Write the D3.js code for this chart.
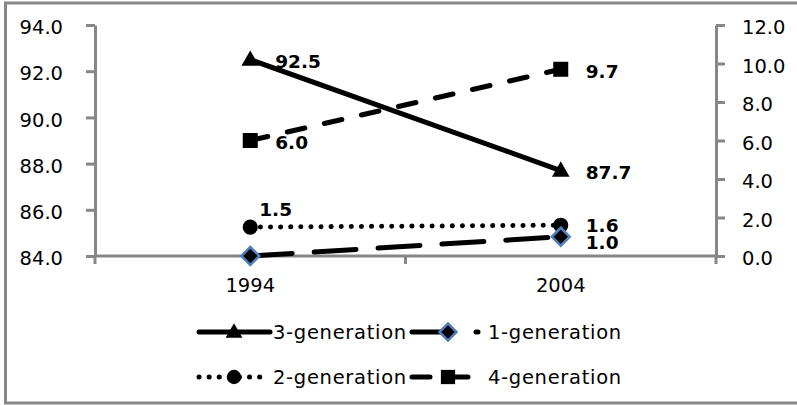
<!DOCTYPE html>
<html>
<head>
<meta charset="utf-8">
<script src="https://cdn.jsdelivr.net/npm/d3@7"></script>
<style>
  html, body { margin: 0; padding: 0; background: #fff; }
  svg { display: block; }
  text { font-family: "DejaVu Sans", sans-serif; fill: #000; }
</style>
</head>
<body>
<svg id="chart" width="797" height="405"></svg>
<script>
// ---- Data ----
const categories = ["1994", "2004"];
const leftTicks = [84, 86, 88, 90, 92, 94];
const rightTicks = [0, 2, 4, 6, 8, 10, 12];
const gen3Values = [92.5, 87.7];   // left axis
const gen1Values = [0.0, 1.0];     // right axis
const gen2Values = [1.5, 1.6];     // right axis
const gen4Values = [6.0, 9.7];     // right axis
const gen3Labels = ["92.5", "87.7"];
const gen1Labels = [null, "1.0"];
const gen2Labels = ["1.5", "1.6"];
const gen4Labels = ["6.0", "9.7"];
const seriesNames = ["3-generation", "1-generation", "2-generation", "4-generation"];

// ---- Layout ----
const svg = d3.select("#chart");
const plot = { left: 95, right: 716, top: 25, bottom: 256 };
const axisColor = "#878787";

const x = d3.scalePoint().domain(categories).range([plot.left, plot.right]).padding(0.5);
const yL = d3.scaleLinear().domain([84, 94]).range([plot.bottom, plot.top]);
const yR = d3.scaleLinear().domain([0, 12]).range([plot.bottom, plot.top]);

// frame
svg.append("rect").attr("x", 5.5).attr("y", 3).attr("width", 800).attr("height", 400)
  .attr("fill", "none").attr("stroke", axisColor).attr("stroke-width", 3);

// axes
function styleAxis(g) {
  g.selectAll(".domain").attr("stroke", axisColor).attr("stroke-width", 3);
  g.selectAll(".tick line").attr("stroke", axisColor).attr("stroke-width", 3);
  g.selectAll(".tick text").style("font-size", "19.5px").attr("fill", "#000");
}
const axL = d3.axisLeft(yL).tickValues(leftTicks).tickFormat(d3.format(".1f")).tickSize(9).tickSizeOuter(0).tickPadding(23);
const gL = svg.append("g").attr("transform", `translate(${plot.left},0)`).call(axL).call(styleAxis);
gL.selectAll(".tick text").attr("dy", "0.45em");

const axR = d3.axisRight(yR).tickValues(rightTicks).tickFormat(d3.format(".1f")).tickSize(9).tickSizeOuter(0).tickPadding(17);
const gR = svg.append("g").attr("transform", `translate(${plot.right},0)`).call(axR).call(styleAxis);
gR.selectAll(".tick text").attr("dy", "0.45em");

// x axis: line plus boundary ticks
const step = x.step();
const xg = svg.append("g").attr("transform", `translate(0,${plot.bottom})`);
xg.append("line").attr("x1", plot.left).attr("x2", plot.right).attr("stroke", axisColor).attr("stroke-width", 3);
const bounds = [plot.left].concat(categories.map(c => x(c) + step / 2));
xg.selectAll(".bt").data(bounds).join("line")
  .attr("x1", d => d).attr("x2", d => d).attr("y1", 0).attr("y2", 8)
  .attr("stroke", axisColor).attr("stroke-width", 3);
xg.selectAll(".cl").data(categories).join("text")
  .attr("x", d => x(d)).attr("y", 36).attr("text-anchor", "middle")
  .style("font-size", "19.5px").text(d => d);

// ---- Series ----
const diamondPath = (s) => `M0,${-s}L${s},0L0,${s}L${-s},0Z`;
const series = [
  { name: seriesNames[0], values: gen3Values, labels: gen3Labels, y: yL, dash: null, marker: "triangle" },
  { name: seriesNames[2], values: gen2Values, labels: gen2Labels, y: yR, dash: "0.1,10", marker: "circle" },
  { name: seriesNames[1], values: gen1Values, labels: gen1Labels, y: yR, dash: "42,22", marker: "diamond" },
  { name: seriesNames[3], values: gen4Values, labels: gen4Labels, y: yR, dash: "18,20", marker: "square" }
];

function drawMarker(g, type, cx, cy, scale) {
  scale = scale || 1;
  if (type === "triangle") {
    g.append("path").attr("d", d3.symbol(d3.symbolTriangle, 135 * scale * scale)())
      .attr("transform", `translate(${cx},${cy + 1})`).attr("fill", "#000");
  } else if (type === "circle") {
    g.append("path").attr("d", d3.symbol(d3.symbolCircle, 180 * scale * scale)())
      .attr("transform", `translate(${cx},${cy})`).attr("fill", "#000");
  } else if (type === "square") {
    g.append("path").attr("d", d3.symbol(d3.symbolSquare, 225 * scale * scale)())
      .attr("transform", `translate(${cx},${cy})`).attr("fill", "#000");
  } else if (type === "diamond") {
    g.append("path").attr("d", diamondPath(9 * scale))
      .attr("transform", `translate(${cx},${cy})`).attr("fill", "#000")
      .attr("stroke", "#4F81BD").attr("stroke-width", 2.5);
  }
}

// label offsets (dx from point to label left edge, dy from point to label centre)
const labelOffset = {
  "3-generation": [[25, 2], [25, 2]],
  "2-generation": [[9, -18], [25, 0]],
  "1-generation": [[25, 2], [25, 6]],
  "4-generation": [[25, 2], [25, 2]]
};

const marksG = svg.append("g");
series.forEach(s => {
  const line = d3.line().x((d, i) => x(categories[i])).y(d => s.y(d));
  marksG.append("path").datum(s.values).attr("d", line)
    .attr("fill", "none").attr("stroke", "#000").attr("stroke-width", 5)
    .attr("stroke-linecap", "round")
    .attr("stroke-dasharray", s.dash);
});
series.forEach(s => {
  s.values.forEach((v, i) => drawMarker(marksG, s.marker, x(categories[i]), s.y(v)));
});
const fsLab = 18.5;
series.forEach(s => {
  s.values.forEach((v, i) => {
    if (!s.labels[i]) return;
    const off = labelOffset[s.name][i];
    marksG.append("text")
      .attr("x", x(categories[i]) + off[0])
      .attr("y", s.y(v) + off[1] + fsLab * 0.36)
      .style("font-size", fsLab + "px").style("font-weight", "bold")
      .text(s.labels[i]);
  });
});

// ---- Legend ----
const legendItems = [
  { s: series[0], x0: 199, y: 332, len: 71 },
  { s: series[2], x0: 412, y: 332, len: 66 },
  { s: series[1], x0: 199, y: 377, len: 64 },
  { s: series[3], x0: 412, y: 377, len: 64 }
];
const legG = svg.append("g");
legendItems.forEach(it => {
  legG.append("line").attr("x1", it.x0).attr("x2", it.x0 + it.len).attr("y1", it.y).attr("y2", it.y)
    .attr("stroke", "#000").attr("stroke-width", 5).attr("stroke-linecap", "round")
    .attr("stroke-dasharray", it.s.dash);
  drawMarker(legG, it.s.marker, it.x0 + (it.x0 > 300 ? 36 : 35), it.y, 0.95);
  legG.append("text").attr("x", it.x0 + (it.x0 > 300 ? 76 : 74)).attr("y", it.y + 19.5 * 0.36)
    .style("font-size", "19.5px").style("letter-spacing", "0.7px").text(it.s.name);
});
</script>
</body>
</html>
